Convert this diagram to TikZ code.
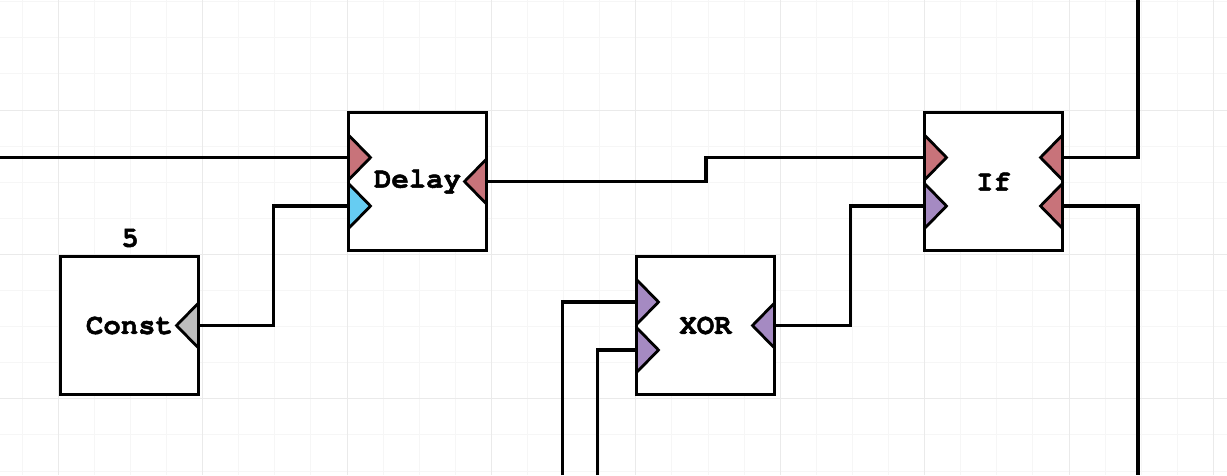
\documentclass[tikz,border=0pt]{standalone}
\usepackage{fontspec}
\usetikzlibrary{calc}
\newfontfamily\monob{TeX Gyre Cursor}[BoldFeatures={FakeBold=1.6}]
\definecolor{gridminor}{HTML}{F6F6F6}
\definecolor{gridmajor}{HTML}{EAEAEA}
\definecolor{portred}{HTML}{C8737A}
\definecolor{portblue}{HTML}{66CCF2}
\definecolor{portpurple}{HTML}{A58AC2}
\definecolor{portgrey}{HTML}{BDBDBD}
\tikzset{
  block/.style={draw=black, fill=white, line width=3.3pt, minimum width=138.5pt, minimum height=138.5pt, inner sep=0pt, font=\monob\bfseries\fontsize{29}{29}\selectfont},
  lbl/.style={inner sep=0pt, font=\monob\bfseries\fontsize{29}{29}\selectfont},
  port/.style={draw=black, line width=2.8pt, line join=miter},
  wire/.style={draw=black, line width=3.2pt, line join=miter},
}
\begin{document}
\begin{tikzpicture}[x=1pt,y=-1pt]
\useasboundingbox (0,0) rectangle (1227,475);
\fill[white] (0,0) rectangle (1227,475);
% grid
\foreach \i in {-1,...,34} {
  \draw[gridminor, line width=1pt] ({58.2+36.1*\i},0) -- ({58.2+36.1*\i},475);
}
\foreach \j in {-3,...,10} {
  \draw[gridminor, line width=1pt] (0,{110+36.1*\j}) -- (1227,{110+36.1*\j});
}
\foreach \i in {0,...,8} {
  \draw[gridmajor, line width=1pt] ({58.2+144.4*\i},0) -- ({58.2+144.4*\i},475);
}
\foreach \j in {0,1,2} {
  \draw[gridmajor, line width=1pt] (0,{110+144.4*\j}) -- (1227,{110+144.4*\j});
}

% blocks
\node[block] (delay) at (417.5,181.5) {Delay};
\node[block] (iff) at (993.5,181.5) {If};
\node[block] (xor) at (705.5,325.5) {XOR};
\node[block] (const) at (129.5,325.5) {Const};
\node[lbl] (constval) at (130,238) {5};

% port coordinates (on block edges)
\coordinate (delay-in1) at (348.5,157.5);
\coordinate (delay-in2) at (348.5,206);
\coordinate (delay-out) at (486.5,181.5);
\coordinate (iff-in1) at (924.5,157.5);
\coordinate (iff-in2) at (924.5,206);
\coordinate (iff-out1) at (1062.5,157.5);
\coordinate (iff-out2) at (1062.5,206);
\coordinate (xor-in1) at (636.5,302);
\coordinate (xor-in2) at (636.5,350);
\coordinate (xor-out) at (774.5,325.5);
\coordinate (const-out) at (198.5,325.5);

% free wire ends
\coordinate (leftend) at (0,157.5);
\coordinate (topend) at (1138,0);
\coordinate (botend) at (1138,475);
\coordinate (xsrc1) at (562.5,475);
\coordinate (xsrc2) at (597.5,475);

% wires
\draw[wire] (leftend) -- (delay-in1);
\draw[wire] (const-out) -| (273.5,206) -- (delay-in2);
\draw[wire] (delay-out) -- (706,181.5) |- (iff-in1);
\draw[wire] (xor-out) -| (850.5,206) -- (iff-in2);
\draw[wire] (iff-out1) -| (topend);
\draw[wire] (iff-out2) -| (botend);
\draw[wire] (xsrc1) |- (xor-in1);
\draw[wire] (xsrc2) |- (xor-in2);

% ports (triangles)
\newcommand{\inport}[2]{\draw[port, fill=#2] ($(#1)+(0,-22.5)$) -- ($(#1)+(22,0)$) -- ($(#1)+(0,22.5)$) -- cycle;}
\newcommand{\outport}[2]{\draw[port, fill=#2] ($(#1)+(0,-22.5)$) -- ($(#1)+(-22,0)$) -- ($(#1)+(0,22.5)$) -- cycle;}
\inport{delay-in1}{portred}
\inport{delay-in2}{portblue}
\outport{delay-out}{portred}
\inport{iff-in1}{portred}
\inport{iff-in2}{portpurple}
\outport{iff-out1}{portred}
\outport{iff-out2}{portred}
\inport{xor-in1}{portpurple}
\inport{xor-in2}{portpurple}
\outport{xor-out}{portpurple}
\outport{const-out}{portgrey}
\end{tikzpicture}
\end{document}
